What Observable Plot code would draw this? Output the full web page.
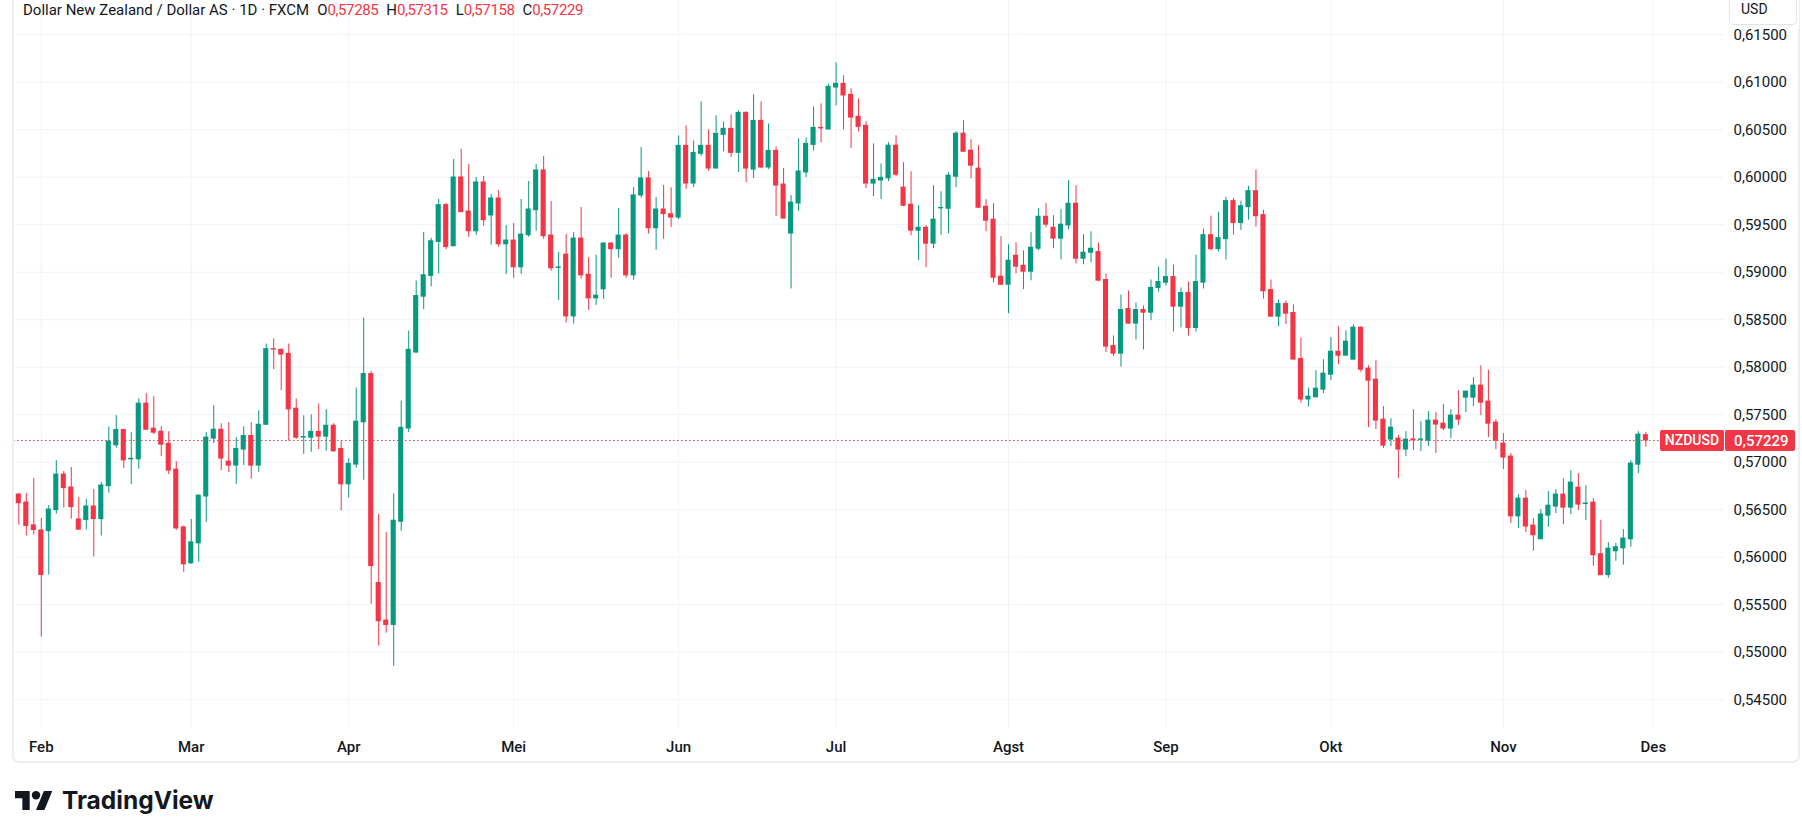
<!DOCTYPE html>
<html>
<head>
<meta charset="utf-8">
<script src="https://cdn.jsdelivr.net/npm/d3@7"></script>
<script src="https://cdn.jsdelivr.net/npm/@observablehq/plot@0.6"></script>
<style>
  html, body { margin: 0; padding: 0; background: #fff; overflow: hidden; }
  #wrap { position: relative; width: 1802px; height: 838px; overflow: hidden; background: #fff; }
  #chart { position: absolute; left: 0; top: 0; }
  #title { position: absolute; left: 23px; top: 1px; line-height: 19px; font: 15px Roboto, sans-serif; color: #131722; white-space: nowrap; }
  #title .v { letter-spacing: -0.4px; }
  #title .k { margin-left: 8px; }
  #panel { position: absolute; left: 12px; top: -10px; width: 1788px; height: 773px; box-sizing: border-box; border: 2px solid #eceef2; border-radius: 7px; pointer-events: none; }
  #usdmask { position: absolute; left: 1725px; top: 0; width: 74px; height: 29px; background: #fff; }
  #usd { position: absolute; left: 1729px; top: -5px; width: 68px; height: 30px; box-sizing: border-box; border: 1px solid #e0e3eb; border-radius: 5px; background: #fff; font: 14px Roboto, sans-serif; color: #131722; padding: 5px 0 0 11px; }
  #logo { position: absolute; left: 0; top: 780px; }
</style>
</head>
<body>
<div id="wrap">
  <div id="chart"></div>
  <div id="panel"></div>
  <div id="usdmask"></div>
  <div id="usd">USD</div>
  <div id="title"></div>
  <svg id="logo" width="260" height="44">
    <g transform="translate(15,6.8) scale(1.05)" fill="#131722">
      <path d="M14 22H7V11H0V4h14v18zM28 22h-8l7.5-18h8L28 22z"/>
      <circle cx="20" cy="8" r="4"/>
    </g>
    <text x="62" y="28.8" font-family="Inter, Roboto, sans-serif" font-weight="700" font-size="24.5" fill="#131722">TradingView</text>
  </svg>
</div>
<script>
// ---- data (NZD/USD daily, FXCM) ----
const symbol = "NZDUSD";
const titleText = "Dollar New Zealand / Dollar AS · 1D · FXCM";

const dates = [
"2025-01-29","2025-01-30","2025-01-31",
"2025-02-03","2025-02-04","2025-02-05","2025-02-06","2025-02-07","2025-02-10","2025-02-11","2025-02-12","2025-02-13","2025-02-14",
"2025-02-17","2025-02-18","2025-02-19","2025-02-20","2025-02-21","2025-02-24","2025-02-25","2025-02-26","2025-02-27","2025-02-28",
"2025-03-03","2025-03-04","2025-03-05","2025-03-06","2025-03-07","2025-03-10","2025-03-11","2025-03-12","2025-03-13","2025-03-14",
"2025-03-17","2025-03-18","2025-03-19","2025-03-20","2025-03-21","2025-03-24","2025-03-25","2025-03-26","2025-03-27","2025-03-28","2025-03-31",
"2025-04-01","2025-04-02","2025-04-03","2025-04-04","2025-04-07","2025-04-08","2025-04-09","2025-04-10","2025-04-11",
"2025-04-14","2025-04-15","2025-04-16","2025-04-17","2025-04-18","2025-04-21","2025-04-22","2025-04-23","2025-04-24","2025-04-25",
"2025-04-28","2025-04-29","2025-04-30",
"2025-05-01","2025-05-02","2025-05-05","2025-05-06","2025-05-07","2025-05-08","2025-05-09","2025-05-12","2025-05-13","2025-05-14",
"2025-05-15","2025-05-16","2025-05-19","2025-05-20","2025-05-21","2025-05-22","2025-05-23","2025-05-26","2025-05-27","2025-05-28",
"2025-05-29","2025-05-30",
"2025-06-02","2025-06-03","2025-06-04","2025-06-05","2025-06-06","2025-06-09","2025-06-10","2025-06-11","2025-06-12","2025-06-13",
"2025-06-16","2025-06-17","2025-06-18","2025-06-19","2025-06-20","2025-06-23","2025-06-24","2025-06-25","2025-06-26","2025-06-27","2025-06-30",
"2025-07-01","2025-07-02","2025-07-03","2025-07-04","2025-07-07","2025-07-08","2025-07-09","2025-07-10","2025-07-11",
"2025-07-14","2025-07-15","2025-07-16","2025-07-17","2025-07-18","2025-07-21","2025-07-22","2025-07-23","2025-07-24","2025-07-25",
"2025-07-28","2025-07-29","2025-07-30","2025-07-31",
"2025-08-01","2025-08-04","2025-08-05","2025-08-06","2025-08-07","2025-08-08","2025-08-11","2025-08-12","2025-08-13","2025-08-14","2025-08-15",
"2025-08-18","2025-08-19","2025-08-20","2025-08-21","2025-08-22","2025-08-25","2025-08-26","2025-08-27","2025-08-28","2025-08-29",
"2025-09-01","2025-09-02","2025-09-03","2025-09-04","2025-09-05","2025-09-08","2025-09-09","2025-09-10","2025-09-11","2025-09-12",
"2025-09-15","2025-09-16","2025-09-17","2025-09-18","2025-09-19","2025-09-22","2025-09-23","2025-09-24","2025-09-25","2025-09-26",
"2025-09-29","2025-09-30",
"2025-10-01","2025-10-02","2025-10-03","2025-10-06","2025-10-07","2025-10-08","2025-10-09","2025-10-10","2025-10-13","2025-10-14",
"2025-10-15","2025-10-16","2025-10-17","2025-10-20","2025-10-21","2025-10-22","2025-10-23","2025-10-24","2025-10-27","2025-10-28",
"2025-10-29","2025-10-30","2025-10-31",
"2025-11-03","2025-11-04","2025-11-05","2025-11-06","2025-11-07","2025-11-10","2025-11-11","2025-11-12","2025-11-13","2025-11-14",
"2025-11-17","2025-11-18","2025-11-19","2025-11-20","2025-11-21","2025-11-24","2025-11-25","2025-11-26","2025-11-27","2025-11-28"
];

const open = [
.56659,.56576,.56335,
.56282,.56275,.56495,.56870,.56734,.56398,.56391,.56534,.56401,.56748,
.57178,.57339,.57030,.57031,.57616,.57353,.57321,.57195,.56922,.56314,
.55936,.56146,.56639,.57248,.57342,.57006,.56964,.57133,.57276,.56964,
.57394,.58190,.58183,.58140,.57563,.57260,.57258,.57319,.57269,.57384,.57140,
.56767,.56975,.57420,.57928,.55728,.55333,.55287,.56373,.57355,
.58154,.58742,.58961,.59319,.59706,.59273,.59997,.59639,.59431,.59945,
.59597,.59776,.59294,
.59333,.59052,.59389,.59653,.60071,.59386,.59045,.59185,.58535,.59354,
.58974,.58725,.58820,.59301,.59242,.59386,.58967,.59808,.59987,.59463,
.59660,.59610,
.59575,.60330,.59933,.60246,.60330,.60091,.60446,.60509,.60256,.60677,
.60080,.60593,.60102,.60277,.59923,.59407,.59723,.60050,.60340,.60519,.60502,
.60944,.60982,.60867,.60635,.60540,.59933,.59965,.59988,.60332,
.59890,.59710,.59437,.59468,.59300,.59672,.59668,.60005,.60458,.60279,
.60090,.59689,.59553,.58953,
.58868,.59174,.59068,.59005,.59247,.59584,.59468,.59353,.59493,.59721,.59142,
.59205,.59212,.58918,.58224,.58143,.58613,.58459,.58602,.58574,.58834,
.58890,.58949,.58637,.58781,.58413,.58890,.59390,.59243,.59348,.59748,
.59517,.59685,.59853,.59601,.58812,.58532,.58665,.58571,.58087,.57660,
.57683,.57764,
.57921,.58163,.58121,.58079,.58416,.57985,.57869,.57448,.57238,.57248,
.57133,.57240,.57235,.57227,.57438,.57406,.57354,.57490,.57680,.57680,
.57806,.57638,.57417,
.57196,.57059,.56430,.56617,.56333,.56189,.56438,.56533,.56659,.56522,
.56732,.56560,.56575,.56031,.55811,.56063,.56094,.56189,.56974,.57285
];

const high = [
.56670,.56670,.56828,
.56408,.56544,.57017,.56902,.56944,.56628,.56608,.56713,.56786,.57370,
.57490,.57340,.57311,.57668,.57721,.57689,.57374,.57321,.57006,.56328,
.56398,.56650,.57311,.57595,.57405,.57416,.57258,.57373,.57416,.57541,
.58244,.58298,.58190,.58244,.57667,.57488,.57498,.57613,.57552,.57405,.57222,
.57036,.57781,.58516,.57957,.56452,.56258,.56667,.57645,.58380,
.58907,.59419,.59358,.59767,.59724,.60187,.60293,.60134,.59997,.60008,
.59818,.59860,.59491,
.59512,.59765,.59955,.60134,.60219,.59744,.59207,.59396,.59417,.59681,
.59154,.59178,.59312,.59312,.59670,.59407,.59892,.60314,.60061,.59786,
.59913,.59888,
.60435,.60540,.60382,.60793,.60498,.60646,.60582,.60656,.60698,.60688,
.60867,.60793,.60561,.60319,.60091,.59807,.60403,.60414,.60740,.60772,.60982,
.61204,.61067,.60930,.60825,.60582,.60351,.60140,.60363,.60437,
.60153,.60058,.59700,.59490,.59910,.59847,.60047,.60479,.60595,.60395,
.60332,.59763,.59721,.59374,
.59289,.59310,.59226,.59416,.59668,.59721,.59595,.59658,.59963,.59910,.59395,
.59426,.59306,.58981,.58329,.58760,.58802,.58676,.58644,.58918,.59054,
.59138,.59075,.58834,.58897,.59180,.59454,.59590,.59632,.59790,.59779,
.59748,.59905,.60074,.59653,.58918,.58707,.58697,.58655,.58308,.57780,
.57964,.58079,
.58311,.58426,.58384,.58447,.58426,.58016,.58069,.57585,.57459,.57280,
.57322,.57553,.57427,.57532,.57522,.57606,.57553,.57753,.57745,.57890,
.58016,.57969,.57448,
.57301,.57091,.56659,.56701,.56406,.56501,.56690,.56711,.56827,.56911,
.56880,.56753,.56617,.56389,.56154,.56144,.56291,.57016,.57321,.57315
];

const low = [
.56337,.56223,.56233,
.55160,.55813,.56453,.56517,.56401,.56286,.56286,.56002,.56223,.56674,
.57146,.56933,.56765,.56926,.57340,.57290,.57059,.56870,.56282,.55841,
.55925,.55946,.56366,.57195,.56912,.56891,.56767,.56964,.56821,.56893,
.57390,.57975,.57753,.57222,.57240,.57083,.57104,.57133,.57115,.57104,.56488,
.56624,.56936,.56810,.55506,.55065,.55201,.54850,.56273,.57312,
.58150,.58606,.58846,.58982,.59237,.59270,.59630,.59368,.59389,.59484,
.59284,.59263,.58974,
.58936,.58978,.59368,.59431,.59347,.59010,.58704,.58465,.58454,.58925,
.58598,.58651,.58714,.58936,.59147,.58936,.58915,.59780,.59400,.59231,
.59347,.59470,
.59554,.59870,.59891,.60218,.60060,.60090,.60267,.60207,.60049,.59944,
.59986,.60090,.60080,.59586,.59560,.58824,.59639,.59996,.60277,.60361,.60500,
.60751,.60498,.60302,.60477,.59881,.59796,.59765,.59953,.60005,
.59689,.59384,.59121,.59047,.59247,.59388,.59405,.59890,.60260,.59984,
.59668,.59426,.58889,.58860,
.58563,.58984,.58816,.58910,.59226,.59468,.59247,.59131,.59447,.59089,.59079,
.59100,.58900,.58154,.58112,.58000,.58450,.58287,.58182,.58490,.58791,
.58855,.58371,.58413,.58329,.58371,.58823,.59222,.59212,.59128,.59390,
.59440,.59548,.59475,.58718,.58530,.58427,.58448,.58080,.57620,.57580,
.57680,.57722,
.57858,.58027,.58120,.58080,.57943,.57364,.57343,.57143,.57164,.56828,
.57059,.57122,.57112,.57164,.57091,.57333,.57248,.57385,.57522,.57585,
.57490,.57259,.57133,
.56922,.56354,.56302,.56260,.56063,.56190,.56315,.56459,.56343,.56449,
.56491,.56385,.55905,.55810,.55779,.55958,.55916,.56105,.56880,.57158
];

const close = [
.56568,.56328,.56286,
.55813,.56502,.56870,.56727,.56527,.56290,.56534,.56401,.56755,.57217,
.57339,.57020,.57036,.57616,.57342,.57311,.57185,.56912,.56303,.55925,
.56156,.56649,.57259,.57342,.57038,.56964,.57140,.57276,.56964,.57394,
.58190,.58185,.58133,.57556,.57258,.57265,.57319,.57269,.57384,.57115,.56767,
.56982,.57427,.57928,.55907,.55326,.55287,.56384,.57362,.58183,
.58749,.58968,.59326,.59706,.59265,.59997,.59632,.59431,.59945,.59547,
.59776,.59294,.59333,
.59052,.59396,.59660,.60071,.59379,.59041,.59050,.58535,.59354,.58967,
.58725,.58753,.59301,.59242,.59386,.58967,.59808,.59987,.59463,.59660,
.59611,.59575,
.60330,.59933,.60256,.60330,.60091,.60456,.60509,.60256,.60677,.60091,
.60593,.60102,.60277,.59912,.59565,.59733,.60060,.60351,.60519,.60514,.60951,
.60982,.60860,.60628,.60530,.59933,.59972,.59993,.60332,.60026,
.59700,.59437,.59468,.59300,.59553,.59677,.60016,.60458,.60268,.60121,
.59679,.59542,.58942,.58868,
.59121,.59058,.59005,.59258,.59584,.59500,.59353,.59500,.59721,.59142,.59205,
.59247,.58911,.58217,.58143,.58602,.58459,.58602,.58574,.58834,.58897,
.58949,.58637,.58781,.58413,.58897,.59390,.59243,.59359,.59748,.59517,
.59695,.59853,.59590,.58800,.58532,.58665,.58564,.58080,.57660,.57690,
.57774,.57932,
.58163,.58121,.58269,.58416,.57974,.57858,.57438,.57175,.57364,.57133,
.57238,.57230,.57240,.57438,.57396,.57354,.57490,.57448,.57743,.57806,
.57627,.57406,.57227,
.57049,.56430,.56617,.56323,.56231,.56449,.56543,.56659,.56522,.56785,
.56554,.56565,.56021,.55811,.56090,.56105,.56196,.56985,.57290,.57229
];

// axis ticks
const yTicks = [0.545, 0.55, 0.555, 0.56, 0.565, 0.57, 0.575, 0.58, 0.585, 0.59, 0.595, 0.60, 0.605, 0.61, 0.615];
const monthTickDates = ["2025-02-03","2025-03-03","2025-04-01","2025-05-01","2025-06-02","2025-07-01","2025-08-01","2025-09-01","2025-10-01","2025-11-03","2025-12-01"];
const monthTickLabels = ["Feb","Mar","Apr","Mei","Jun","Jul","Agst","Sep","Okt","Nov","Des"];

// ---- build ----
const GREEN = "#089981", RED = "#f23645", GRID = "#f0f3fa", TEXT = "#131722";
const FONT = "Roboto, sans-serif";
const fmt = v => v.toFixed(5).replace(".", ",");

const candles = dates.map((d, i) => ({i, date: d, o: open[i], h: high[i], l: low[i], c: close[i]}));
const up = candles.filter(d => d.c >= d.o);
const down = candles.filter(d => d.c < d.o);
const last = candles[candles.length - 1];

const tickIdx = monthTickDates.map(d => { const k = dates.indexOf(d); return k >= 0 ? k : dates.length; });
const tickLabelOf = new Map(tickIdx.map((k, j) => [k, monthTickLabels[j]]));

// title
const lastColor = last.c >= last.o ? GREEN : RED;
document.getElementById("title").innerHTML =
  titleText +
  ["O", "H", "L", "C"].map((k, j) => `<span class="k">${k}<span class="v" style="color:${lastColor}">${fmt([last.o, last.h, last.l, last.c][j])}</span></span>`).join("");

const BODY = 0.34;

function lastPriceLabel(index, scales, values, dimensions) {
  const y = scales.y(last.c);
  const xr = dimensions.width - dimensions.marginRight;
  const g = d3.create("svg:g").attr("font-family", FONT);
  g.append("rect").attr("x", xr - 64).attr("y", y - 10).attr("width", 64).attr("height", 21).attr("rx", 2).attr("fill", lastColor);
  g.append("text").attr("x", xr - 32).attr("y", y + 0.5).attr("dy", "0.35em").attr("text-anchor", "middle")
    .attr("fill", "#fff").attr("font-size", 14).attr("font-weight", 500).text(symbol);
  g.append("rect").attr("x", xr + 1).attr("y", y - 10).attr("width", 70).attr("height", 21).attr("rx", 2).attr("fill", lastColor);
  g.append("text").attr("x", xr + 10).attr("y", y + 0.5).attr("dy", "0.35em").attr("text-anchor", "start")
    .attr("fill", "#fff").attr("font-size", 15).attr("font-weight", 500).text(fmt(last.c));
  return g.node();
}

const chart = Plot.plot({
  width: 1802,
  height: 838,
  marginLeft: 13,
  marginRight: 78,
  marginTop: 0,
  marginBottom: 110,
  style: {fontFamily: FONT, fontSize: "15px", color: TEXT, background: "transparent", overflow: "visible"},
  x: {type: "linear", domain: [-0.707, 227.49], axis: null, label: null},
  y: {domain: [0.54197, 0.6186], axis: null, label: null},
  marks: [
    Plot.gridY({ticks: yTicks, stroke: GRID, strokeOpacity: 1, strokeWidth: 1}),
    Plot.gridX({ticks: tickIdx, stroke: GRID, strokeOpacity: 1, strokeWidth: 1}),
    Plot.ruleX(up, {x: "i", y1: "l", y2: "h", stroke: GREEN, strokeWidth: 1}),
    Plot.ruleX(down, {x: "i", y1: "l", y2: "h", stroke: RED, strokeWidth: 1}),
    Plot.rect(up, {x1: d => d.i - BODY, x2: d => d.i + BODY, y1: "o", y2: "c", fill: GREEN, insetTop: -0.5, insetBottom: -0.5}),
    Plot.rect(down, {x1: d => d.i - BODY, x2: d => d.i + BODY, y1: "o", y2: "c", fill: RED, insetTop: -0.5, insetBottom: -0.5}),
    Plot.ruleY([last.c], {stroke: lastColor, strokeWidth: 1, strokeDasharray: "1.5 2.5"}),
    Plot.axisY({anchor: "right", ticks: yTicks, tickSize: 0, tickPadding: 9, tickFormat: fmt, fontSize: 15, fill: TEXT, label: null}),
    Plot.axisX({anchor: "bottom", ticks: tickIdx, tickSize: 0, tickPadding: 13, tickFormat: k => tickLabelOf.get(k), fontSize: 15, fontWeight: 500, fill: TEXT, label: null}),
    lastPriceLabel
  ]
});
document.getElementById("chart").appendChild(chart);
</script>
</body>
</html>
